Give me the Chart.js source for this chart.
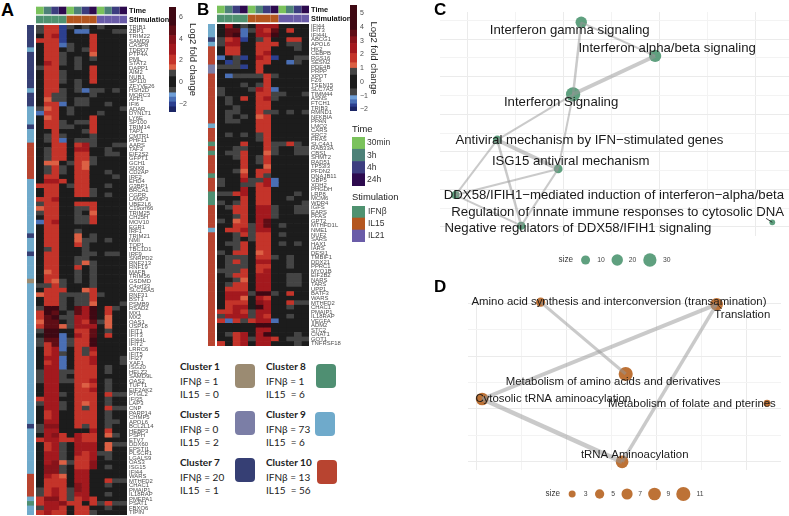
<!DOCTYPE html>
<html>
<head>
<meta charset="utf-8">
<title>Figure</title>
<script src="https://cdn.jsdelivr.net/npm/chart.js@4/dist/chart.umd.js"></script>
<style>
  html, body { margin: 0; background: #fff; }
  #page { position: relative; width: 789px; height: 516px; overflow: hidden; }
  #page canvas { position: absolute; }
  .txt { position: absolute; white-space: pre; font-family: "Liberation Sans", sans-serif; color: #222; line-height: 1; }
  .letter { font-weight: bold; color: #000; }
  .cl { font-family: Lato, sans-serif; font-size: 10px; color: #222; }
  .sw { position: absolute; border-radius: 4px; width: 20px; height: 24px; }
</style>
</head>
<body>
<div id="page"></div>
<script>
// ---------- data ----------
var genesA = ["TRIB1","ZBP1","TRIM22","SAMD9","CASP8","TDRD7","PTP4A","PML","STAT2","DAPP1","AIM2","NUB1","SP110","ZFYVE26","HSH2D","MORC3","AFF1","IFI6","ADAR","DYNLT1","LY6E","SP100","TRIM14","TAP1","CMTR1","PHF11","AARS","TAF3","EIF2S2","GFPT1","GCH1","SNX8",
  "CD2AP","IRF2","EHD4","G3BP1","BRCA1","CGPR","LAMP3","UBE2L6","C19orf66","TRIM25","CH25H","MOV10","EGR1","IRF1","TRIM21","NMI","TOP1","TBC1D1","IRF9","SNRPD2","RNF213","RNF19","MAFB","TRIM56","GSDMD","C4orf33","SLC25A5","RNF31","BST1","PSMB9","RSAD2","MX1","MX2","OAS1","USP18","IFIT1","IFIT3","IFI44L","IFIT2",
  "LRRC6","IFIT5","IFI27","XAF1","ISG20","HELZ2","SAMD9L","OAS2","TUFT1","EIF2AK2","PTGL2","IFI35","LAP3","CNP","PARP14","CHMP5","APOL6","BCL2L14","HEBP3","PSPH","ETV7","DDX60","EPSTI1","PLSCR1","LGALS9","OAS3","ISG15","IFI44","WARS","MTHFD2","CHAC1","PMAIP1","IL18RAP","PMEPA1","PSAT1","FBXO6","TIPIN"];

var clustersA = [7,7,7,7,7,9,7,7,7,7,7,7,7,7,9,7,7,7,9,9,9,9,7,9,9,9,10,10,10,10,10,10,10,10,
  9,9,9,9,9,9,9,9,9,9,9,9,7,9,9,9,7,9,9,9,9,9,1,
  9,9,9,9,9,9,9,9,9,9,9,9,9,9,9,9,9,9,9,9,9,9,9,9,9,9,9,9,9,9,9,7,
  9,9,9,9,9,9,9,9,9,9,10,10,10,10,10,9,8,9,9];

var heatA = [
  [1,2.5,2.5,-2,1,0,1,0,1,0,0,0],
  [1,2.5,2.5,-2.2,0,-1.7,-1.7,0,0,0,1,1],
  [0,2.5,3.5,-2,0,0,0,2.5,0,0,0,0],
  [2.5,2.5,2.5,-2,0,0,0,2.5,0,0,0,0],
  [0,2.5,2.5,-1.4,1,0,0,2.5,0,0,0,0],
  [0,2.5,2.5,0,1,0,1,2.5,0,0,0,0],
  [0,2.5,2.5,1,0,0,0,1.7,0,0,0,0],
  [0,2.5,2.5,1,0,1,0,1,0,0,0,0],
  [0,3.5,2.5,1,0,1,0,0,0,0,0,0],
  [1,2.5,2.5,0,0,1,0,2.5,0,0,0,0],
  [0,2.5,2.5,1,0,0,0,2.5,0,0,0,0],
  [0,2.5,2.5,1,0,0,0,2.5,0,0,0,0],
  [0,2.5,2.5,1,0,1,0,2.5,0,0,0,0],
  [0,2.5,2.5,0,0,1,0,0,0,0,0,0],
  [0,2.5,2.5,1,0,1,-1.7,1,1,0,1,0],
  [0,2.5,1,1,0,0,0,1,0,0,0,0],
  [0,1.7,1,1,0,1,1,0,0,0,0,0],
  [0,2.5,2.5,-1.7,0,1,1,0,0,1,0,0],
  [1,1.7,2.5,0,1,0,0,0,0,0,0,1],
  [-1.4,2.5,2.5,0,1,0,0,0,1,0,0,0],
  [0,1.7,2.5,0,0,0,0,2.5,0,0,0,0],
  [0,2.5,2.5,1,0,1,1,2.5,0,0,0,0],
  [0,2.5,2.5,1,1,0,0,2.5,0,0,0,0],
  [0,0,2.5,0,0,0,1,2.5,0,0,0,0],
  [0,1,2.5,1,0,0,0,1,0,0,0,0],
  [0,1,2.5,-1.4,0,1,1,1,0,0,0,0],
  [0,0,2.5,2.5,0,2.5,3.5,1,0,0,1,1],
  [0,1,2.5,2.5,0,3.5,3.5,0,0,1,0,0],
  [0,1,2.5,2.5,0,2.5,2.5,0,0,1,1,0],
  [0,1,2.5,2.5,0,2.5,2.5,1,0,0,0,0],
  [0,1.7,1.7,0,1,2.5,1.7,1,0,0,0,0],
  [0,1,2.5,1,0,2.5,1.7,0,0,0,0,0],
  [0,1,2.5,1,0,2.5,2.5,0,0,1,0,0],
  [0,2.5,2.5,0,0,2.5,2.5,0,0,0,1,0],
  [0,3.5,3.5,2.5,0,2.5,2.5,0,0,0,0,0],
  [2.5,2.5,2.5,0,1,2.5,2.5,0,0,1,0,0],
  [0,2.5,2.5,0,0,2.5,2.5,1,0,0,0,0],
  [0,2.5,2.5,0,0,2.5,2.5,1,0,1,0,0],
  [2.5,2.5,3.5,0,0,0,0,0,0,0,0,0],
  [1,2.5,2.5,0,0,2.5,2.5,2.5,0,0,0,0],
  [1.7,2.5,2.5,0,0,1,1,2.5,0,0,0,0],
  [1,2.5,2.5,0,0,1,0,1.7,0,0,0,0],
  [0,2.5,2.5,0,0,1,1,2.5,0,0,0,0],
  [-1.7,2.5,3.5,0,0,1,1,2.5,0,0,0,0],
  [0,2.5,2.5,0,0,0,0,0,0,0,0,0],
  [0,2.5,2.5,0,0,1,0,0,0,0,0,0],
  [0,2.5,2.5,0,0,1.7,0,1,0,0,0,0],
  [0,2.5,2.5,0,0,1.7,1,1,0,1,0,0],
  [0,2.5,2.5,0,0,2.5,1,0,0,0,0,0],
  [0,1,2.5,0,0,0,1,0,0,0,0,0],
  [0,2.5,2.5,0,0,0,1,1,0,1,1,0],
  [0,2.5,2.5,0,0,1,1,0,0,0,0,0],
  [0,2.5,2.5,0,0,1,1.7,1,0,0,0,0],
  [0,2.5,2.5,0,0,2.5,0,1,0,0,0,0],
  [0,1.7,2.5,0,0,1,0,1,0,0,0,0],
  [0,2.5,2.5,0,0,1,0,1,0,0,0,0],
  [0,2.5,1.7,1,0,1,0,1,0,0,0,0],
  [1,1,2.5,1,0,0,0,1,0,0,0,0],
  [0,2.5,2.5,2.5,0,0,1.7,2.5,0,0,0,0],
  [1.7,2.5,2.5,1,1,1,1,2.5,1,0,0,0],
  [0,2.5,2.5,1,0,1,1,2.5,0,0,0,0],
  [0,2.5,2.5,1,0,1,1,1.7,0,0,0,1],
  [1,6,6,1,0,4.5,3.5,6,0,2.5,1,0],
  [2.5,6,4.5,0,1,4.5,3.5,6,0,2.5,0,0],
  [2.5,4.5,6,1,1,3.5,3.5,6,0,1.7,0,0],
  [1.7,4.5,4.5,0,1,3.5,2.5,4.5,1,1.7,0,0],
  [2.5,4.5,4.5,1.7,1,3.5,3.5,3.5,0,1.7,0,0],
  [1,6,6,0,0,2.5,2.5,4.5,0,1,0,0],
  [0,6,6,-1.7,0,3.5,2.5,4.5,0,2.5,0,0],
  [1,4.5,4.5,-1.7,1,2.5,2.5,6,0,0,0,0],
  [1,2.5,4.5,-1.4,1,2.5,2.5,6,0,0,0,0],
  [0,2.5,3.5,-1.4,0,2.5,1,3.5,0,0,0,0],
  [0,2.5,3.5,1,0,2.5,1,2.5,0,0,0,0],
  [0,3.5,3.5,-1.7,0,2.5,2.5,3.5,0,0,0,1],
  [0,2.5,3.5,-1.4,0,2.5,2.5,3.5,0,0,0,1],
  [0,3.5,3.5,-1.4,0,2.5,2.5,2.5,0,1,0,0],
  [1,3.5,3.5,1,1,2.5,2.5,2.5,0,1,0,0],
  [1,3.5,3.5,1,0,2.5,2.5,2.5,0,0,0,0],
  [1,3.5,3.5,1,1,2.5,2.5,3.5,0,1,0,0],
  [0,3.5,3.5,0,0,2.5,1.7,2.5,0,1,0,0],
  [0,3.5,3.5,0,0,2.5,2.5,3.5,0,1,0,0],
  [0,3.5,3.5,1,0,2.5,2.5,2.5,0,2.5,1,1],
  [2.5,3.5,3.5,0,0,2.5,2.5,2.5,0,1,0,0],
  [1,3.5,3.5,1,0,2.5,1.7,2.5,0,1,0,0],
  [0,3.5,3.5,1,0,2.5,1,2.5,0,2.5,1,1],
  [0,2.5,3.5,0,0,2.5,2.5,2.5,0,1,0,0],
  [0,2.5,3.5,0,0,2.5,2.5,2.5,0,1,0,0],
  [0,3.5,3.5,0,0,2.5,2.5,2.5,0,1,1,0],
  [1,4,4,0,0,2.5,1,2.5,0,1,0,0],
  [1,3.5,3.5,0,0,0,0,3.5,0,2.5,0,0],
  [0,3.5,4,2.5,0,3.5,2.5,2.5,0,1.7,1,0],
  [2.5,3.5,3.5,2.5,2.5,3.5,2.5,2.5,0,0,0,0],
  [0,2.5,3.5,1,0,3.5,3.5,3.5,0,1.7,1,1],
  [0,2.5,3.5,1,0,3.5,3.5,3.5,0,1.7,0,0],
  [0,3.5,3.5,1,0,3.5,2.5,3.5,1,1,0,0],
  [0,3.5,3.5,1,0,2.5,2.5,3.5,0,1,0,0],
  [0,3.5,4,1.7,1,2.5,2.5,4,0,0,0,0],
  [0,4,4,1,0,2.5,2.5,4,0,1,0,0],
  [0,4,4,1,0,3.5,3.5,0,0,0,0,0],
  [0,3.5,2.5,1.7,0,3.5,3.5,0,0,0,0,0],
  [0,2.5,2.5,2.5,0,3.5,3.5,0,0,2.5,1,1],
  [0,2.5,2.5,2.5,0,4,3.5,0,0,1,0,0],
  [1,2.5,3.5,2.5,1,4,3.5,0,0,0,0,0],
  [1,2.5,3.5,2.5,1,3.5,3.5,0,0,1,0,0],
  [2.5,4,4,2.5,1,2.5,3.5,2.5,0,0,0,0],
  [2.5,3.5,3.5,4,2.5,2.5,0,2.5,1,2.5,1,1],
  [1,3.5,3.5,2.5,0,2.5,2.5,0,0,1,0,0],
  [2.5,3.5,2.5,2.5,0,2.5,2.5,1,0,0,0,0]
];

var genesB = ["IFI44","IFIT3","IFI44L","ABCG1","APOL6","HK2","CEBPB","RGS16","SESN2","PDE4B","PRPP","XPOT","FZ6","TSEN15","SLC7A5","TIMM44","ASNS","FTCH1","TRIB3","RMND1","NFKBIA","PPAN","LMO2","CARS","SRC2","FRAS","SLC4A1","RAB33A","CBS1","SHMT2","RAD51","TP53I3","PFDN2",
  "DNAJB11","GBP5","XDH2","PHGDH","LRP8","MCM6","WDR4","IGFS","EARS","PFAS","GPT2","MTHFD1L","NME1","NUF2","SARS","HAX1","IARS","DESI1","TMBIF1","DDX21","PPRC1","MYO1B","EIF2B2","NARS","TARS","UPP1","BATF3","WARS","MTHFD2","CHAC1","PMAIP1","IL18RAP","VEGFA","ADM2","STC2","CNAT1","GOT1","TNFRSF18"];

var clustersB = [9,9,9,7,9,10,10,10,10,5,5,10,10,10,10,10,10,10,10,10,10,10,9,10,10,10,8,10,8,10,10,10,10,8,10,10,10,8,8,8,
  10,10,10,10,10,9,10,10,10,10,10,10,10,10,10,10,10,10,10,10,10,10,10,10,10,10,10,10,10,10,10];

var heatB = [
  [0,3.5,0,1,0,3.5,3.5,3.5,0,0,0,0],
  [0,4.5,4.5,-1.7,1,3.5,2.5,4.5,0,2.5,0,0],
  [0,4.5,5,-1.4,0,3.5,3.5,5,0,0,0,0],
  [1,2.5,3.5,-2.2,0,1,2.5,0,0,2.5,2.5,0],
  [1,3.5,3.5,0,0,2.5,2.5,2.5,0,1,1,0],
  [0,2.5,2.5,0,0,2.5,2.5,0,0,0,1,0],
  [0,2.5,2.5,0,0,2.5,3.5,0,0,0,0,0],
  [-1.4,0,1,-2,0,3.5,2.5,-2.2,0,0,1,1],
  [0,-2.2,1,0,0,2.5,2.5,0,0,-1.4,1,0],
  [1,1,1,-2,0,2.5,0,0,0,0,0,0],
  [0,0,0,0,0,2.5,0,0,0,0,0,0],
  [0,-1.4,1,1,1,1,2.5,1,0,0,0,0],
  [0,0,0,0,0,0,2.5,0,0,0,0,0],
  [0,0,0,1,0,1,2.5,0,0,0,0,0],
  [1,0,0,0,1,3.5,2.5,-1.7,0,0,0,0],
  [1,0,0,0,0,2.5,2.5,1,1,0,0,1],
  [0,1,0,2.5,0,2.5,3.5,1,0,0,0,0],
  [0,1,0,0,0,2.5,2.5,0,0,0,0,0],
  [0,0,1,0,0,2.5,2.5,0,0,0,0,0],
  [0,1,1,0,0,2.5,1,1,0,1,0,1],
  [0,1,0,1,0,1.7,2.5,0,0,0,0,0],
  [0,1,1,0,0,2.5,2.5,0,0,0,0,0],
  [0,0,0,0,0,2.5,2.5,0,0,0,0,0],
  [0,0,0,0,0,2.5,2.5,0,0,0,0,0],
  [0,1,0,1,0,1,2.5,0,0,0,0,0],
  [0,0,0,0,0,1,2.5,0,0,0,0,0],
  [0,0,0,2.5,0,0,2.5,1,1,2.5,1,0],
  [0,0,1,1,0,0,2.5,1,0,0,1,1],
  [0,1,1,2.5,0,0,1.7,1,0,0,1,1],
  [0,0,1,2.5,0,1,2.5,0,0,0,0,0],
  [0,0,0,2.5,0,1,2.5,0,0,0,0,0],
  [0,0,0,2.5,0,0,1.7,0,0,0,0,0],
  [0,0,1,1.7,0,2.5,2.5,0,0,0,0,0],
  [0,0,0,2.5,0,2.5,1,0,0,0,0,0],
  [1,0,0,3.5,1,1,3.5,-1.4,0,0,0,0],
  [1,0,0,1,1,2.5,3.5,-1.4,0,0,0,0],
  [0,0,0,3.5,0,2.5,2.5,0,0,0,0,0],
  [1,1,2.5,3.5,0,2.5,2.5,0,0,0,1,0],
  [0,0,0,2.5,0,2.5,2.5,0,0,1,0,0],
  [1,0,1,2.5,0,2.5,2.5,0,0,0,0,1],
  [0,1,2.5,2.5,0,3.5,3.5,1,0,0,1,1],
  [0,0,2.5,2.5,0,3.5,3.5,1,0,0,1,1],
  [0,0,1,2.5,0,3.5,3.5,1,0,0,0,0],
  [1,0,1.7,2.5,0,3.5,4.5,0,0,0,0,0],
  [0,0,2.5,2.5,1,3.5,4.5,0,1,0,0,0],
  [0,2.5,2.5,3.5,1,3.5,3.5,0,0,0,0,0],
  [0,0,1,2.5,1,2.5,2.5,0,1,0,0,0],
  [0,0,1,0,1,2.5,2.5,0,0,0,0,0],
  [0,1,1,2.5,0,2.5,2.5,0,1,0,1,0],
  [0,0,1,2.5,0,2.5,2.5,0,0,0,0,0],
  [1,0,2.5,2.5,0,1.7,2.5,0,0,0,0,0],
  [0,1,1,1,0,2.5,2.5,1,0,1,0,0],
  [0,1,2.5,1,0,3.5,3.5,0,0,1,0,0],
  [0,1,1,1,0,2.5,2.5,0,0,1,0,0],
  [1,1,1,2.5,0,2.5,3.5,0,0,0,0,0],
  [0,1,2.5,2.5,0,3.5,3.5,0,0,1,1,0],
  [0,0,1,1.7,0,3.5,3.5,0,0,1,1,0],
  [0,1,2.5,2.5,0,3.5,3.5,0,0,1,1,0],
  [0,2.5,2.5,2.5,0,3.5,3.5,0,0,0,0,0],
  [0,3.5,3.5,3.5,1,5,5,1,0,2.5,0,0],
  [0,3.5,3.5,1.7,0,3.5,2.5,0,0,0,0,0],
  [0,2.5,2.5,2.5,0,4,3.5,0,0,2.5,1,1],
  [0,2.5,3.5,3.5,0,5,3.5,0,0,1,0,0],
  [2.5,2.5,3.5,2.5,1,3.5,3.5,0,0,0,0,0],
  [1,3.5,3.5,3.5,1,3.5,2.5,0,0,1,0,0],
  [2.5,-1.4,2.5,1,2.5,3.5,3.5,-1.7,0,0,0,0],
  [0,0,0,0,0,5,5,0,0,0,0,0],
  [0,0,0,0,0,3.5,3.5,0,0,0,0,0],
  [0,1,2.5,3.5,0,3.5,5,0,0,0,1,0],
  [0,0,2.5,3.5,1,3.5,3.5,2.5,0,1,1,1],
  [2.5,0,2.5,3.5,0,3.5,3.5,0,0,0,1,0]
];

var times = ["30min","3h","4h","24h"];
var timeColors = ["#7ac25c","#4d8178","#3c3d7f","#2d0a4e"];
var stims = ["IFN\u03b2","IL15","IL21"];
var stimColors = ["#4f9270","#b4561f","#6a5ca8"];
var timeRow = [0,1,2,3,0,1,2,3,0,1,2,3];
var stimRow = [0,0,0,0,1,1,1,1,2,2,2,2];

// cluster legend
var clusterIds = [1,5,7,8,9,10];
var clusterIFN = [1,0,20,1,73,13];
var clusterIL15 = [0,2,1,6,6,56];
var clusterColors = {1:"#9b8b72",5:"#7b7ea6",7:"#363f74",8:"#4f8f72",9:"#6faacb",10:"#b84430"};

// colour key: value breaks (upper end of each band) and the band colours
var keyBreaks = [-2.3,-1.85,-1.4,-1,-0.5,0.5,1.3,1.9,3,3.8,4.3,4.8,99];
var keyColors = ["#1b2565","#2c3f8f","#4a6fb5","#6f9ed6","#444444","#1c1c1c","#444444","#dc6044","#c4342a","#a3191e","#87131a","#5f0d15","#3f0813"];
var barEdgesA = [-2.78,-2.3,-1.85,-1.4,-1,-0.5,0.5,1.1,1.6,2.5,3.5,4.3,5.2,6.94];
var barEdgesB = [-2.12,-1.83,-1.6,-1.3,-1,-0.5,0.5,1,1.4,2.07,2.8,3.3,3.78,5.61];

// network C
var nodesC = ["Interferon gamma signaling","Interferon alpha/beta signaling","Interferon Signaling","Antiviral mechanism by IFN\u2212stimulated genes","ISG15 antiviral mechanism","DDX58/IFIH1\u2212mediated induction of interferon\u2212alpha/beta","Negative regulators of DDX58/IFIH1 signaling","Regulation of innate immune responses to cytosolic DNA"];
var xC = [2.38,3.92,2.21,0.63,1.90,-0.24,1.13,6.36];
var yC = [10.89,9.10,7.06,4.63,3.09,1.70,0.07,0.25];
var sizeC = [20,24,36,9,9,7,7,2];
var labelXC = [2.14,4.17,1.96,2.55,2.16,3.06,2.31,3.14];
var labelYC = [10.44,9.48,6.61,4.60,3.50,1.68,-0.09,0.76];
var edgeFromC = [0,0,1,2,2,3,3,3,5,5,4];
var edgeToC = [1,2,2,3,4,4,5,6,4,6,6];
var edgeWidthC = [2,2.5,4,2,2,4,2,2.5,2,2,2];
var sizeKeyC = [10,20,30];
var sizeKeyXC = [2.47,3.13,3.81];
var sizeKeyLabelXC = [2.79,3.45,4.16];

// network D
var nodesD = ["Amino acid synthesis and interconversion (transamination)","Translation","Metabolism of amino acids and derivatives","Cytosolic tRNA aminoacylation","Metabolism of folate and pterines","tRNA Aminoacylation"];
var xD = [1.43,5.34,3.32,0.13,6.46,3.24];
var yD = [6.05,5.97,3.32,2.37,2.21,-0.02];
var sizeD = [5,9,11,9,3,9];
var labelXD = [3.17,5.91,3.04,1.71,4.79,3.52];
var labelYD = [6.07,5.57,3.03,2.37,2.17,0.24];
var edgeFromD = [0,1,3,5];
var edgeToD = [2,3,5,1];
var edgeWidthD = [3,4,4.5,3.5];
var sizeKeyD = [3,5,7,9,11];
var sizeKeyXD = [2.13,2.74,3.35,3.96,4.6];
var sizeKeyLabelXD = [2.43,3.04,3.64,4.27,4.97];

// ---------- helpers ----------
var page = document.getElementById("page");
var LIB = "'Liberation Sans', sans-serif";
Chart.defaults.font.family = LIB;

function addCanvas(left, top, w, h) {
  var c = document.createElement("canvas");
  c.width = w; c.height = h;
  c.style.left = left + "px"; c.style.top = top + "px";
  page.appendChild(c);
  return c;
}

function addText(str, left, top, size, cls) {
  var d = document.createElement("div");
  d.className = "txt " + (cls || "");
  d.textContent = str;
  d.style.left = left + "px"; d.style.top = top + "px"; d.style.fontSize = size + "px";
  page.appendChild(d);
}

function cellColor(v) {
  for (var i = 0; i < keyBreaks.length; i++) if (v <= keyBreaks[i]) return keyColors[i];
  return keyColors[keyColors.length - 1];
}

// fixed side width, and no room kept for the first and last tick label
function fitSide(w) {
  return function (s) {
    s.width = w;
    s.paddingTop = 0; s.paddingBottom = 0;
  };
}

// a heatmap is a stacked horizontal bar chart, each column a dataset of unit bars
function heat(box, rows, nCols, colorOf, o) {
  o = o || {};
  var sets = [];
  for (var c = 0; c < nCols; c++) {
    sets.push({
      data: rows.map(function () { return 1; }),
      backgroundColor: rows.map(function (r, i) { return colorOf(i, c); }),
      barPercentage: o.barPct || 1,
      categoryPercentage: 1,
      borderWidth: 0
    });
  }
  var pad = o.pad || 0;
  new Chart(addCanvas(box[0], box[1], box[2], box[3]), {
    type: "bar",
    data: { labels: rows, datasets: sets },
    options: {
      indexAxis: "y", responsive: false, maintainAspectRatio: false, animation: false, events: [],
      layout: { padding: { top: pad, bottom: pad } },
      plugins: { legend: { display: false }, tooltip: { enabled: false } },
      scales: {
        x: { stacked: true, min: 0, max: nCols, display: false },
        y: {
          stacked: true, position: "right", display: !!o.axis,
          grid: { display: false, drawTicks: false }, border: { display: false },
          afterFit: fitSide(o.axis || 0),
          ticks: {
            autoSkip: false, padding: o.labelGap || 2, color: o.color || "#4d4d4d",
            font: { size: o.size || 5.9, weight: o.weight || "normal" }
          }
        }
      }
    }
  });
}

// colour bar: floating bars on a linear axis
function colorBar(left, top, h, edges, minV, maxV, step) {
  var sets = [];
  for (var i = 0; i < edges.length - 1; i++) {
    sets.push({
      data: [[edges[i], edges[i + 1]]],
      backgroundColor: keyColors[i], grouped: false,
      barPercentage: 1, categoryPercentage: 1, borderWidth: 0
    });
  }
  new Chart(addCanvas(left, top - 5, 29, h + 10), {
    type: "bar",
    data: { labels: ["key"], datasets: sets },
    options: {
      responsive: false, maintainAspectRatio: false, animation: false, events: [],
      layout: { padding: { top: 5, bottom: 5 } },
      plugins: { legend: { display: false }, tooltip: { enabled: false } },
      scales: {
        x: { display: false },
        y: {
          position: "right", min: minV, max: maxV,
          grid: { display: false, drawTicks: false }, border: { display: false },
          afterFit: fitSide(22),
          title: { display: true, text: "Log2 fold change", font: { size: 9.5 }, color: "#222", padding: 0 },
          ticks: {
            stepSize: step, includeBounds: false, padding: 3, color: "#4d4d4d", font: { size: 7 },
            callback: function (v) { return v < 0 ? "\u2212" + (-v) : "" + v; }
          }
        }
      }
    }
  });
}

function gridColor(ctx) {
  return ctx.tick && ctx.tick.value % 2 ? "#f3f3f3" : "#ebebeb";
}

function textPlugin(texts) {
  return {
    id: "nodeText",
    afterDatasetsDraw: function (chart) {
      var ctx = chart.ctx;
      ctx.save();
      ctx.textAlign = "center"; ctx.textBaseline = "middle";
      texts.forEach(function (t) {
        ctx.font = t.size + "px " + LIB;
        ctx.fillStyle = t.color;
        ctx.fillText(t.t, chart.scales.x.getPixelForValue(t.x), chart.scales.y.getPixelForValue(t.y));
      });
      ctx.restore();
    }
  };
}

// network panel: bubbles for the nodes, two point lines for the edges
function network(box, padding, range, net) {
  var texts = net.nodes.map(function (n, i) {
    return { t: n, x: net.labelX[i], y: net.labelY[i], size: net.font, color: "#1a1a1a" };
  });
  var sets = [{
    type: "bubble", order: 2, clip: false,
    data: net.x.map(function (x, i) { return { x: x, y: net.y[i], r: net.radius(net.sizes[i]) }; }),
    backgroundColor: net.color, borderWidth: 0
  }];
  net.from.forEach(function (a, i) {
    var b = net.to[i];
    sets.push({
      type: "line", order: 1, clip: false,
      data: [{ x: net.x[a], y: net.y[a] }, { x: net.x[b], y: net.y[b] }],
      borderColor: "rgba(150,150,150,0.5)", borderWidth: net.widths[i], pointRadius: 0
    });
  });
  net.leaders.forEach(function (l) {
    sets.push({
      type: "line", order: 0, clip: false,
      data: [{ x: l[0], y: l[1] }, { x: l[2], y: l[3] }],
      borderColor: "#111", borderWidth: 0.8, pointRadius: 0
    });
  });
  var axis = function (mn, mx) {
    return {
      type: "linear", min: mn, max: mx,
      grid: { color: gridColor, drawTicks: false }, border: { display: false },
      ticks: { display: false, stepSize: 1, includeBounds: false }
    };
  };
  new Chart(addCanvas(box[0], box[1], box[2], box[3]), {
    type: "bubble",
    data: { datasets: sets },
    options: {
      responsive: false, maintainAspectRatio: false, animation: false, events: [],
      layout: { padding: padding },
      plugins: { legend: { display: false }, tooltip: { enabled: false } },
      scales: { x: axis(range[0], range[1]), y: axis(range[2], range[3]) }
    },
    plugins: [textPlugin(texts)]
  });
}

// size key under a network: its own small bubble chart on the same x range
// (bubble charts keep room for the radius, so the canvas is 10px larger all round)
function sizeKey(box, xMin, xMax, net) {
  var texts = [{ t: "size", x: net.keyTitleX, y: 0, size: 8.2, color: "#333" }];
  net.keySizes.forEach(function (s, i) {
    texts.push({ t: "" + s, x: net.keyLabelX[i], y: 0, size: 6.8, color: "#444" });
  });
  new Chart(addCanvas(box[0] - 10, box[1] - 10, box[2] + 20, box[3] + 20), {
    type: "bubble",
    data: { datasets: [{
      data: net.keySizes.map(function (s, i) { return { x: net.keyX[i], y: 0, r: net.radius(s) }; }),
      backgroundColor: net.color, borderWidth: 0
    }] },
    options: {
      responsive: false, maintainAspectRatio: false, animation: false, events: [],
      layout: { padding: 10 },
      plugins: { legend: { display: false }, tooltip: { enabled: false } },
      scales: {
        x: { type: "linear", min: xMin, max: xMax, display: false },
        y: { type: "linear", min: -1, max: 1, display: false }
      }
    },
    plugins: [textPlugin(texts)]
  });
}

// ---------- panels A and B ----------
function annotation(left, top, w) {
  heat([left, top, w + 50, 18], ["Time", "Stimulation"], 12, function (i, c) {
    return i === 0 ? timeColors[timeRow[c]] : stimColors[stimRow[c]];
  }, { axis: 50, barPct: 0.85, size: 7.4, weight: "bold", color: "#111" });
}

annotation(36, 6, 91);
heat([27, 25, 7, 490], clustersA, 1, function (i) { return clusterColors[clustersA[i]]; });
heat([36, 22, 123, 496], genesA, 12, function (i, c) { return cellColor(heatA[i][c]); }, { axis: 32, pad: 3 });
colorBar(169, 7, 105, barEdgesA, -2.78, 6.94, 2);

annotation(217, 5, 92);
heat([208, 24, 7, 322], clustersB, 1, function (i) { return clusterColors[clustersB[i]]; });
heat([217, 21, 124, 328], genesB, 12, function (i, c) { return cellColor(heatB[i][c]); }, { axis: 32, pad: 3 });
colorBar(350, 5, 106, barEdgesB, -2.12, 5.61, 1);

// ---------- Time / Stimulation keys ----------
addText("Time", 352, 124, 9.4);
heat([352, 137, 42, 49], times, 1, function (i) { return timeColors[i]; }, { axis: 29, size: 8.5, color: "#333" });
addText("Stimulation", 352, 192, 9.4);
heat([352, 206, 42, 36], stims, 1, function (i) { return stimColors[i]; }, { axis: 29, size: 8.5, color: "#333", labelGap: 3 });

// ---------- cluster key ----------
var clusterTextPos = { 1: [180, 361], 5: [180, 409], 7: [180, 457], 8: [266, 361], 9: [266, 409], 10: [266, 457] };
var clusterSwatchPos = { 1: [235, 364], 5: [235, 411], 7: [235, 458], 8: [316, 364], 9: [315, 412], 10: [317, 460] };
clusterIds.forEach(function (id, i) {
  var p = clusterTextPos[id], q = clusterSwatchPos[id];
  addText("Cluster " + id, p[0], p[1], 10, "cl");
  page.lastChild.style.fontWeight = "bold";
  addText("IFN\u03b2 = " + clusterIFN[i], p[0], p[1] + 14.5, 10, "cl");
  addText("IL15  = " + clusterIL15[i], p[0], p[1] + 28, 10, "cl");
  var s = document.createElement("div");
  s.className = "sw";
  s.style.left = q[0] + "px"; s.style.top = q[1] + "px"; s.style.background = clusterColors[id];
  page.appendChild(s);
});

// ---------- panels C and D ----------
var netC = {
  nodes: nodesC, x: xC, y: yC, sizes: sizeC, labelX: labelXC, labelY: labelYC,
  from: edgeFromC, to: edgeToC, widths: edgeWidthC, color: "#5fa07f", font: 13.2,
  radius: function (s) { return 1.6 + 0.92 * Math.sqrt(s); },
  keySizes: sizeKeyC, keyX: sizeKeyXC, keyLabelX: sizeKeyLabelXC, keyTitleX: 2.06,
  leaders: [[6.23, 0.46, 6.36, 0.25]]
};
var netD = {
  nodes: nodesD, x: xD, y: yD, sizes: sizeD, labelX: labelXD, labelY: labelYD,
  from: edgeFromD, to: edgeToD, widths: edgeWidthD, color: "#bd7236", font: 11.4,
  radius: function (s) { return -0.4 + 2.25 * Math.sqrt(s); },
  keySizes: sizeKeyD, keyX: sizeKeyXD, keyLabelX: sizeKeyLabelXD, keyTitleX: 1.70,
  leaders: [[5.34, 5.99, 5.45, 5.80]]
};
network([410, 0, 388, 270], { left: 30, top: 12, right: 9, bottom: 34 }, [-0.5625, 6.708, -0.48, 11.44], netC);
sizeKey([440, 245, 349, 30], -0.5625, 6.708, netC);
network([410, 270, 379, 209], { left: 58, top: 28, right: 8, bottom: 9 }, [-0.184, 6.77, -0.33, 6.21], netD);
sizeKey([468, 479, 313, 30], -0.184, 6.77, netD);

addText("A", 1, 1, 18, "letter");
addText("B", 197, 1, 17, "letter");
addText("C", 434, 1, 17, "letter");
addText("D", 434, 278, 17, "letter");
</script>
</body>
</html>
